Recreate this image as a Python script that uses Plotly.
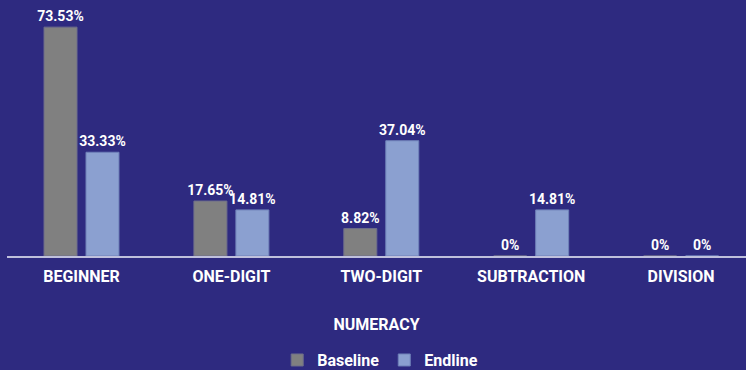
import plotly.graph_objects as go

categories = ["BEGINNER", "ONE-DIGIT", "TWO-DIGIT", "SUBTRACTION", "DIVISION"]
baseline = [73.53, 17.65, 8.82, 0, 0]
endline = [33.33, 14.81, 37.04, 14.81, 0]

BG = "#2E2A80"
FONT = "Roboto"

def labels(vals):
    return [f"{v:g}%" for v in vals]

fig = go.Figure()
fig.add_trace(go.Bar(
    name="Baseline", x=categories, y=baseline,
    text=labels(baseline), textposition="outside", constraintext="none",
    marker=dict(color="#808080", line=dict(color="#6E6E8A", width=1)),
    textfont=dict(color="white", size=14, family=FONT, weight=700),
    cliponaxis=False,
))
fig.add_trace(go.Bar(
    name="Endline", x=categories, y=endline,
    text=labels(endline), textposition="outside", constraintext="none",
    marker=dict(color="#8BA0D0", line=dict(color="#6F80B8", width=1)),
    textfont=dict(color="white", size=14, family=FONT, weight=700),
    cliponaxis=False,
))

fig.update_layout(
    width=746, height=370,
    margin=dict(l=7, r=0, t=7, b=114, autoexpand=False),
    paper_bgcolor=BG, plot_bgcolor=BG,
    barmode="group", bargap=0.44, bargroupgap=0.214,
    font=dict(family=FONT, color="white"),
    showlegend=True,
    legend=dict(
        orientation="h", x=0.505, xanchor="center", y=-0.418, yanchor="middle",
        font=dict(size=16, family=FONT, weight=700, color="white"),
        bgcolor="rgba(0,0,0,0)",
    ),
    xaxis=dict(
        range=[-0.497, 4.433],
        showline=True, linecolor="#BFC0DC", linewidth=2,
        showgrid=False, ticks="", ticklabelstandoff=5,
        tickfont=dict(size=16, family=FONT, weight=700, color="white"),
        title=dict(text="NUMERACY", standoff=34,
                   font=dict(size=16, family=FONT, weight=700, color="white")),
    ),
    yaxis=dict(range=[0, 80], visible=False),
)

fig.write_html("out.html")
